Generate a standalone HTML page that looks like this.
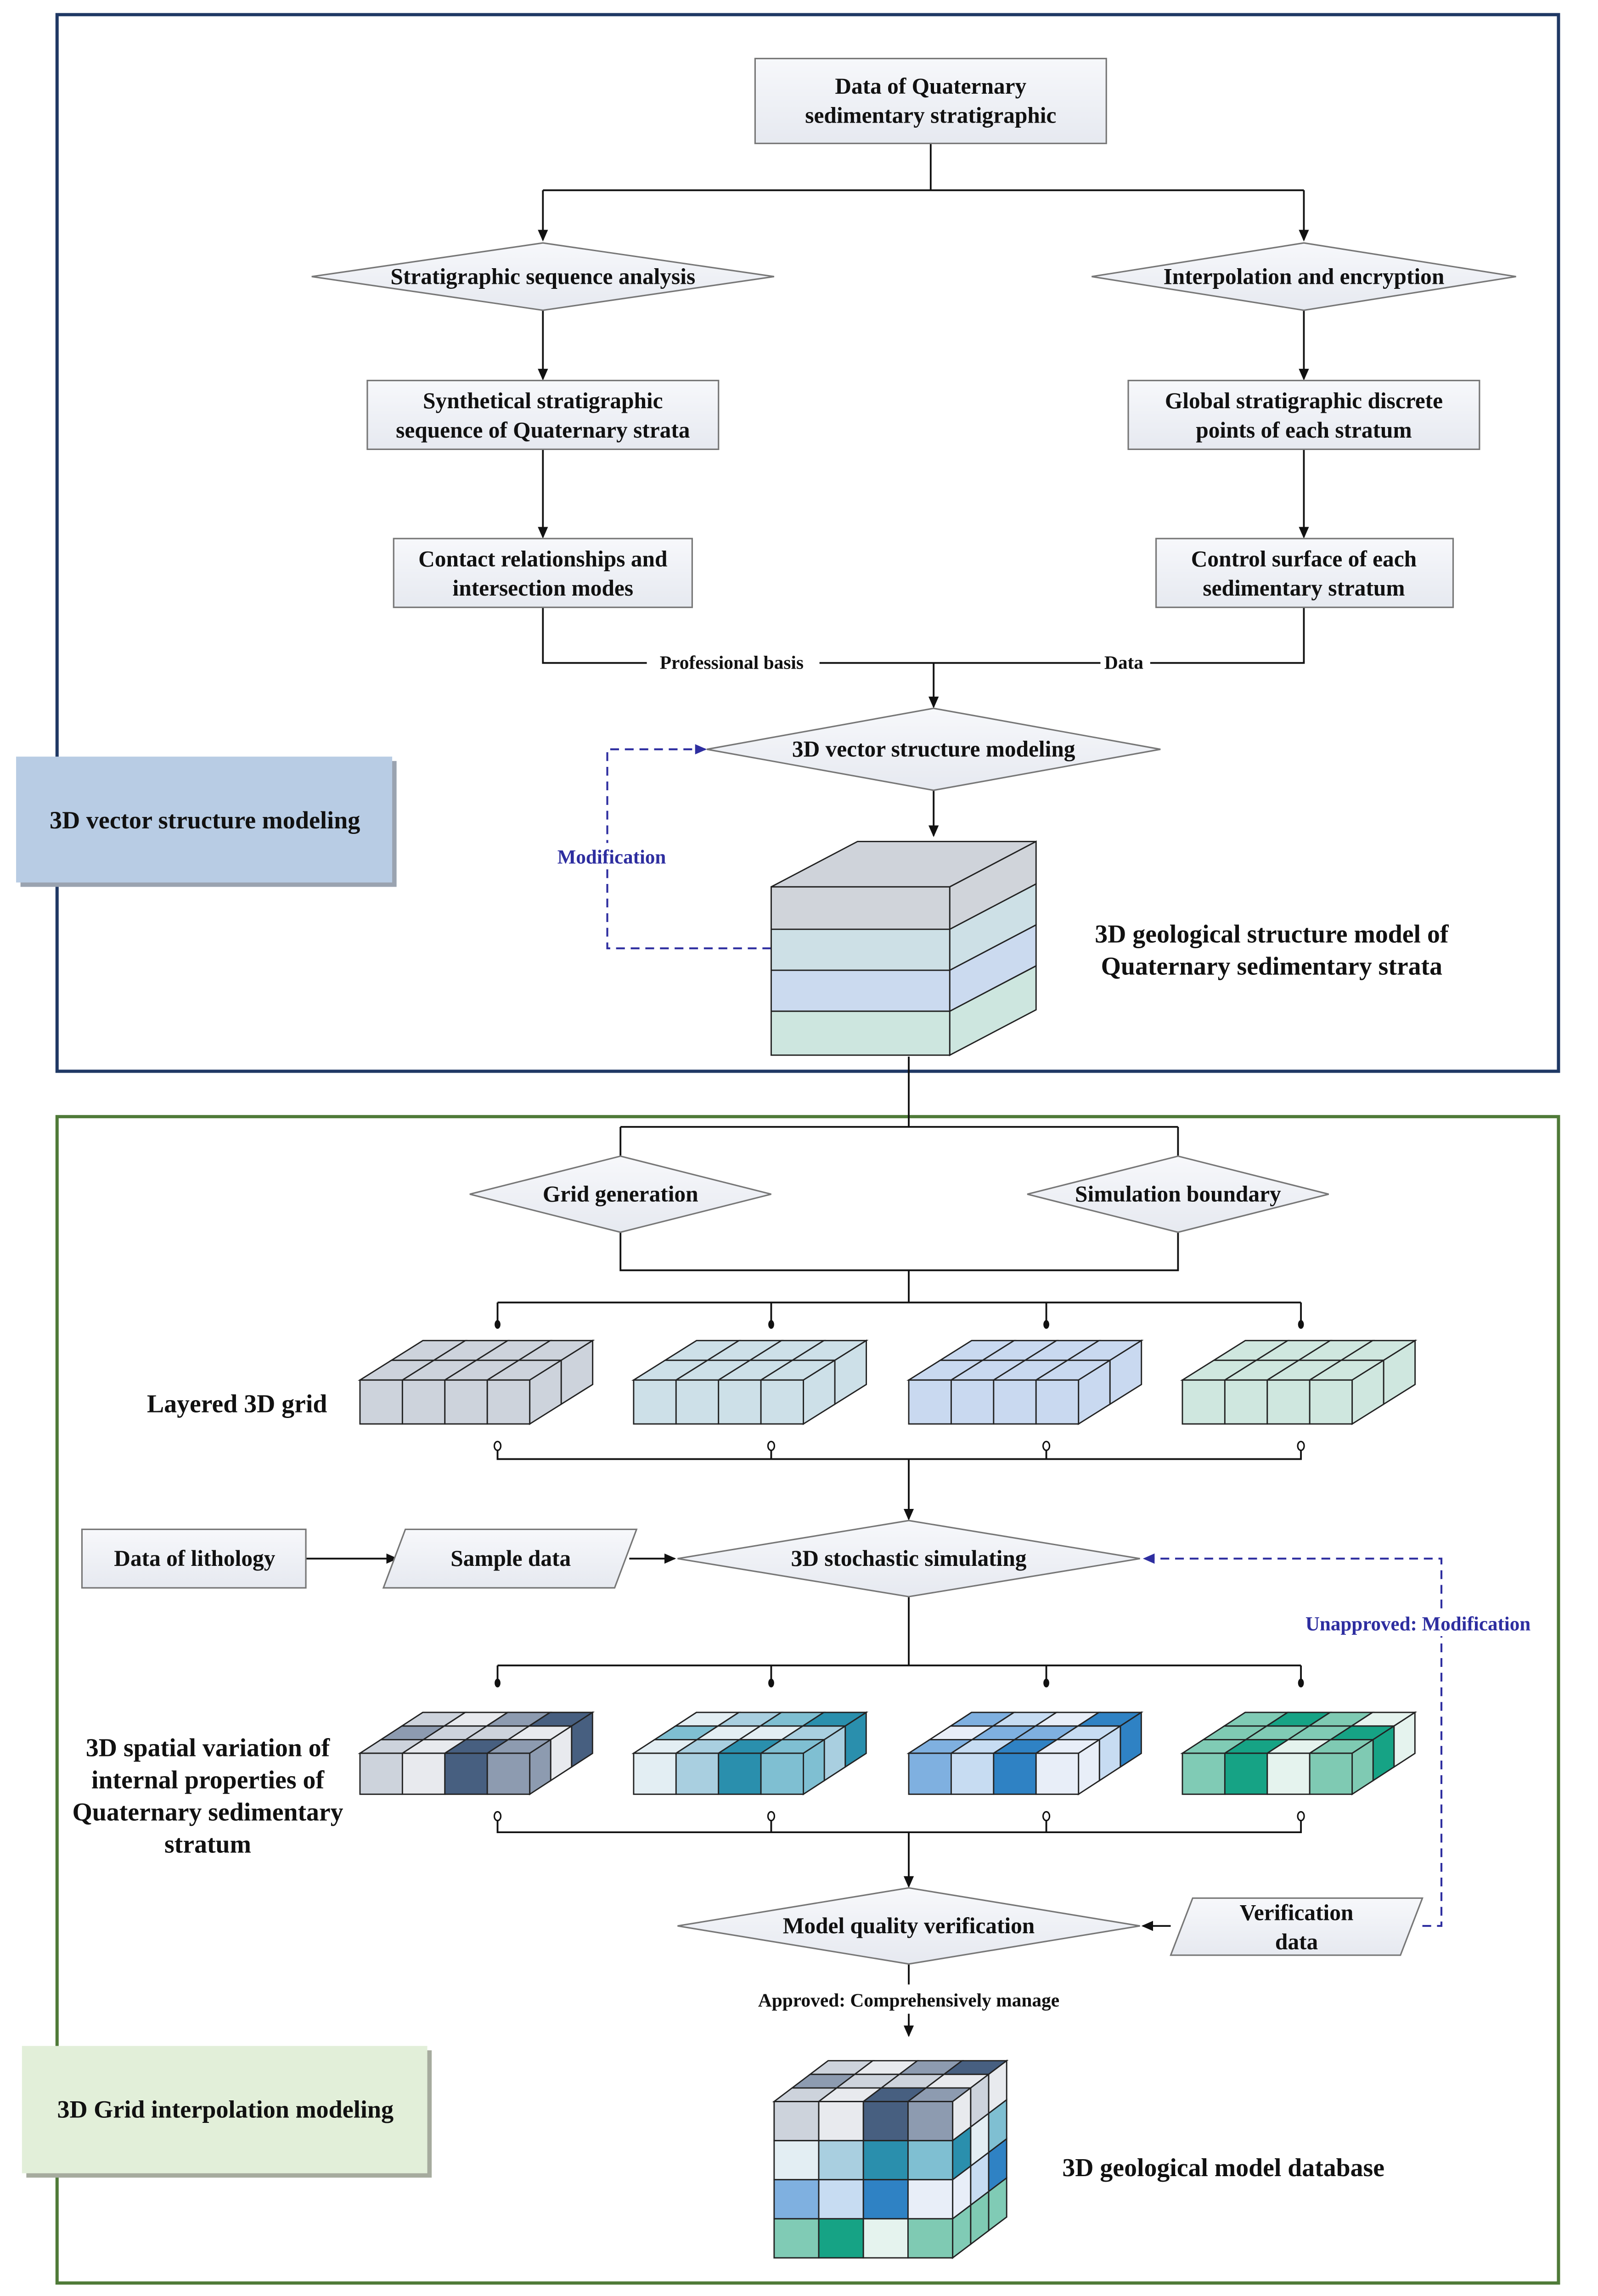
<!DOCTYPE html>
<html><head><meta charset="utf-8"><style>
html,body{margin:0;padding:0;background:#fff;width:3480px;height:5082px;overflow:hidden}
svg{display:block}
text{font-family:"Liberation Serif",serif;fill:#111;font-weight:bold}
</style></head><body>
<svg id="s" width="3480" height="5082" viewBox="0 0 1092 1594.6" preserveAspectRatio="none" xmlns="http://www.w3.org/2000/svg">
<defs>
<marker id="ar" markerWidth="8" markerHeight="8" refX="7" refY="4" orient="auto" markerUnits="userSpaceOnUse"><path d="M0,0.5 L8,4 L0,7.5 z" fill="#111"/></marker>
<marker id="ab" markerWidth="8" markerHeight="8" refX="7" refY="4" orient="auto" markerUnits="userSpaceOnUse"><path d="M0,0.5 L8,4 L0,7.5 z" fill="#2e2ea0"/></marker>
<linearGradient id="bx" x1="0" y1="0" x2="0" y2="1"><stop offset="0" stop-color="#f7f8fb"/><stop offset="1" stop-color="#e6e9f0"/></linearGradient>
</defs>
<rect x="39" y="10" width="1026" height="722" fill="none" stroke="#1f3864" stroke-width="2.2"/>
<rect x="39" y="763" width="1026" height="797" fill="none" stroke="#4f7a38" stroke-width="2.2"/>
<rect x="14" y="520" width="257" height="86" fill="#9aa3b0"/>
<rect x="11" y="517" width="257" height="86" fill="#b8cce4"/>
<text x="140" y="566" font-size="17" text-anchor="middle">3D vector structure modeling</text>
<rect x="18" y="1401" width="277" height="87" fill="#a6ab9e"/>
<rect x="15" y="1398" width="277" height="87" fill="#e2efd9"/>
<text x="154" y="1447" font-size="17" text-anchor="middle">3D Grid interpolation modeling</text>

<g stroke="#111" stroke-width="1.2" fill="none">
<path d="M636,98V130M371,130H891"/>
<path d="M371,130V164" marker-end="url(#ar)"/><path d="M891,130V164" marker-end="url(#ar)"/>
<path d="M371,212V259" marker-end="url(#ar)"/><path d="M891,212V259" marker-end="url(#ar)"/>
<path d="M371,307V367" marker-end="url(#ar)"/><path d="M891,307V367" marker-end="url(#ar)"/>
<path d="M371,415V453H891V415"/>
<path d="M638,453V483" marker-end="url(#ar)"/>
<path d="M638,540V571" marker-end="url(#ar)"/>
<path d="M621,722V770M424,770H805"/>
<path d="M424,770V799" marker-end="url(#ar)"/><path d="M805,770V799" marker-end="url(#ar)"/>
<path d="M424,842V868H805V842M621,868V890M340,890H889M340,890V903M527,890V903M715,890V903M889,890V903"/>
<path d="M340,991V997H889V991M527,991V997M715,991V997"/>
<path d="M621,997V1038" marker-end="url(#ar)"/>
<path d="M209,1065H271" marker-end="url(#ar)"/>
<path d="M430,1065H461" marker-end="url(#ar)"/>
<path d="M621,1091V1138M340,1138H889M340,1138V1148M527,1138V1148M715,1138V1148M889,1138V1148"/>
<path d="M340,1244V1252H889V1244M527,1244V1252M715,1244V1252"/>
<path d="M621,1252V1289" marker-end="url(#ar)"/>
<path d="M800,1316H781" marker-end="url(#ar)"/>
<path d="M621,1342V1356"/>
<path d="M621,1376V1391" marker-end="url(#ar)"/>
</g>
<g fill="#111"><ellipse cx="340" cy="905" rx="2" ry="3"/><ellipse cx="527" cy="905" rx="2" ry="3"/><ellipse cx="715" cy="905" rx="2" ry="3"/><ellipse cx="889" cy="905" rx="2" ry="3"/>
<ellipse cx="340" cy="1150" rx="2" ry="3"/><ellipse cx="527" cy="1150" rx="2" ry="3"/><ellipse cx="715" cy="1150" rx="2" ry="3"/><ellipse cx="889" cy="1150" rx="2" ry="3"/></g>
<g fill="#fff" stroke="#111" stroke-width="1"><ellipse cx="340" cy="988" rx="2.2" ry="3"/><ellipse cx="527" cy="988" rx="2.2" ry="3"/><ellipse cx="715" cy="988" rx="2.2" ry="3"/><ellipse cx="889" cy="988" rx="2.2" ry="3"/>
<ellipse cx="340" cy="1241" rx="2.2" ry="3"/><ellipse cx="527" cy="1241" rx="2.2" ry="3"/><ellipse cx="715" cy="1241" rx="2.2" ry="3"/><ellipse cx="889" cy="1241" rx="2.2" ry="3"/></g>
<g stroke="#2e2ea0" stroke-width="1.3" fill="none" stroke-dasharray="6,4">
<path d="M527,648H415V512H482" marker-end="url(#ab)"/>
<path d="M972,1316H985V1065H782" marker-end="url(#ab)"/>
</g>
<rect x="372" y="576" width="92" height="18" fill="#fff"/>
<text x="418" y="590" font-size="13.5" text-anchor="middle" style="fill:#2e2ea0">Modification</text>
<rect x="880" y="1100" width="178" height="18" fill="#fff"/>
<text x="969" y="1114" font-size="13.5" text-anchor="middle" style="fill:#2e2ea0">Unapproved: Modification</text>

<g fill="url(#bx)" stroke="#777" stroke-width="1">
<rect x="516" y="40" width="240" height="58"/>
<rect x="251" y="260" width="240" height="47"/>
<rect x="771" y="260" width="240" height="47"/>
<rect x="269" y="368" width="204" height="47"/>
<rect x="790" y="368" width="203" height="47"/>
<rect x="56" y="1045" width="153" height="40"/>
<polygon points="213,189 371,166 529,189 371,212"/>
<polygon points="746,189 891,166 1036,189 891,212"/>
<polygon points="483,512 638,484 793,512 638,540"/>
<polygon points="321,816 424,790 527,816 424,842"/>
<polygon points="702,816 805,790 908,816 805,842"/>
<polygon points="463,1065 621,1039 779,1065 621,1091"/>
<polygon points="463,1316 621,1290 779,1316 621,1342"/>
<polygon points="277,1045 435,1045 420,1085 262,1085"/>
<polygon points="815,1297 972,1297 957,1336 800,1336"/>
</g>
<g font-size="15.5" text-anchor="middle">
<text x="636" y="64">Data of Quaternary</text><text x="636" y="84">sedimentary stratigraphic</text>
<text x="371" y="194">Stratigraphic sequence analysis</text>
<text x="891" y="194">Interpolation and encryption</text>
<text x="371" y="279">Synthetical stratigraphic</text><text x="371" y="299">sequence of Quaternary strata</text>
<text x="891" y="279">Global stratigraphic discrete</text><text x="891" y="299">points of each stratum</text>
<text x="371" y="387">Contact relationships and</text><text x="371" y="407">intersection modes</text>
<text x="891" y="387">Control surface of each</text><text x="891" y="407">sedimentary stratum</text>
<text x="638" y="517">3D vector structure modeling</text>
<text x="424" y="821">Grid generation</text>
<text x="805" y="821">Simulation boundary</text>
<text x="133" y="1070">Data of lithology</text>
<text x="349" y="1070">Sample data</text>
<text x="621" y="1070">3D stochastic simulating</text>
<text x="621" y="1321">Model quality verification</text>
<text x="886" y="1312">Verification</text><text x="886" y="1332">data</text>
</g>
<rect x="442" y="446" width="118" height="14" fill="#fff"/>
<rect x="752" y="446" width="34" height="14" fill="#fff"/>
<text x="500" y="457" font-size="13" text-anchor="middle">Professional basis</text>
<text x="768" y="457" font-size="13" text-anchor="middle">Data</text>
<text x="621" y="1371" font-size="13" text-anchor="middle">Approved: Comprehensively manage</text>
<g font-size="17.5" text-anchor="middle">
<text x="869" y="644">3D geological structure model of</text>
<text x="869" y="666">Quaternary sedimentary strata</text>
<text x="162" y="965">Layered 3D grid</text>
<text x="142" y="1200">3D spatial variation of</text>
<text x="142" y="1222">internal properties of</text>
<text x="142" y="1244">Quaternary sedimentary</text>
<text x="142" y="1266">stratum</text>
<text x="836" y="1487">3D geological model database</text>
</g>
<g id="cubes" stroke="#222" stroke-width="0.9"></g>
</svg>
<script>
var g=document.getElementById('cubes'),NS='http://www.w3.org/2000/svg';
function poly(p,f){var e=document.createElementNS(NS,'polygon');e.setAttribute('points',p.map(function(a){return a[0].toFixed(1)+','+a[1].toFixed(1)}).join(' '));e.setAttribute('fill',f);g.appendChild(e);}
function grid(x0,yT,cw,ch,nc,nr,nd,dx,dy,fc){
 var c,d,r;
 for(d=nd-1;d>=0;d--)for(c=0;c<nc;c++){var x=x0+c*cw+d*dx,y=yT-d*dy;poly([[x,y],[x+cw,y],[x+cw+dx,y-dy],[x+dx,y-dy]],fc('t',c,0,d));}
 for(d=nd-1;d>=0;d--)for(r=0;r<nr;r++){var x=x0+nc*cw+d*dx,y=yT+r*ch-d*dy;poly([[x,y],[x+dx,y-dy],[x+dx,y-dy+ch],[x,y+ch]],fc('s',nc-1,r,d));}
 for(r=0;r<nr;r++)for(c=0;c<nc;c++){var x=x0+c*cw,y=yT+r*ch;poly([[x,y],[x+cw,y],[x+cw,y+ch],[x,y+ch]],fc('f',c,r,0));}
}
var L=['#d0d4da','#cde0e6','#cbdaef','#cde6df'];
poly([[527,606],[649,606],[708,575],[586,575]],'#cfd3da');
var ys=[606,635,663,691,721];
for(var i=0;i<4;i++){poly([[649,ys[i]],[708,ys[i]-31],[708,ys[i+1]-31],[649,ys[i+1]]],L[i]);poly([[527,ys[i]],[649,ys[i]],[649,ys[i+1]],[527,ys[i+1]]],L[i]);}
var LG=['#cdd3dc','#cde0e8','#c9d9f0','#cfe7df'],X=[246,433,621,808];
var P=[['#cdd3dc','#e8eaee','#475f80','#8d9bb0'],['#e3eef3','#a9cfe0','#2a8fad','#7fbfd2'],['#7fb0e0','#c7dcf2','#2f82c4','#e8eef8'],['#80cbb5','#16a385','#e5f3ee','#7fcab3']];
var pat=[[0,1,2,3],[3,0,0,1],[0,1,3,2]];
X.forEach(function(x,k){
 grid(x,943,29,30,4,1,2,21.5,13.5,function(){return LG[k];});
 grid(x,1198,29,28,4,1,3,14.3,9.3,function(t,c,r,d){return P[k][pat[d][c]];});
});
grid(529,1436,30.5,26.7,4,4,3,12.3,9.3,function(t,c,r,d){
 if(t==='t')return P[0][pat[d][c]];
 if(t==='s')return P[r][pat[d][(r+1)%4]];
 return P[r][pat[0][c]];});
</script>
</body></html>
